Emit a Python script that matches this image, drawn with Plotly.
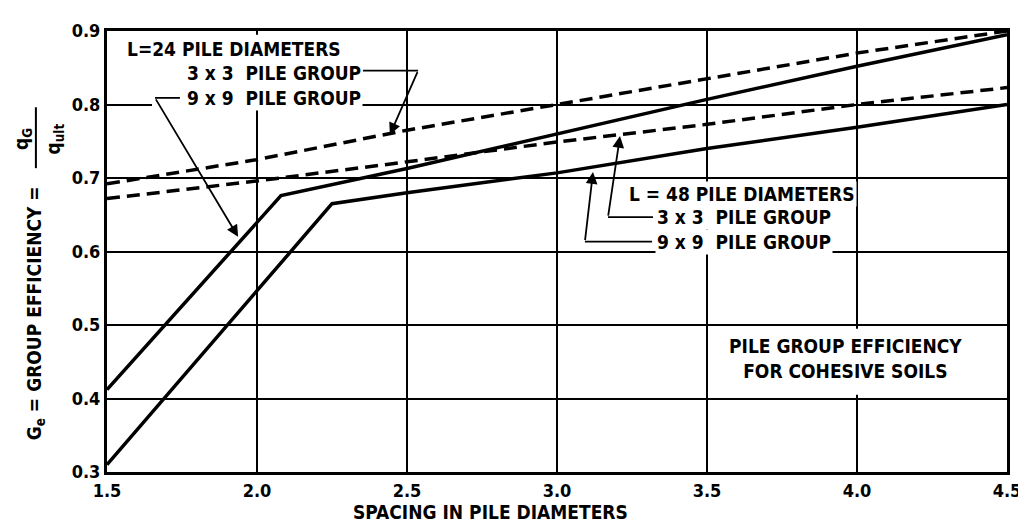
import plotly.graph_objects as go

# spacing (pile diameters) and group efficiency
x_l24_3x3 = [1.5, 1.62, 2.0, 2.5, 3.0, 3.5, 4.0, 4.5]
y_l24_3x3 = [0.692, 0.700, 0.725, 0.765, 0.800, 0.836, 0.870, 0.900]

x_l24_9x9 = [1.5, 2.08, 2.5, 3.0, 3.5, 4.0, 4.5]
y_l24_9x9 = [0.412, 0.676, 0.713, 0.760, 0.807, 0.852, 0.895]

x_l48_3x3 = [1.5, 2.0, 2.5, 3.0, 3.5, 4.0, 4.5]
y_l48_3x3 = [0.672, 0.696, 0.722, 0.749, 0.773, 0.800, 0.823]

x_l48_9x9 = [1.5, 2.25, 2.5, 3.0, 3.5, 4.0, 4.5]
y_l48_9x9 = [0.310, 0.665, 0.680, 0.707, 0.740, 0.769, 0.800]

FONT = "Liberation Sans Narrow, DejaVu Sans Condensed, Arial Narrow, sans-serif"
LW = 3.5
DASH = "13px,7px"

fig = go.Figure()
fig.add_trace(go.Scatter(x=x_l24_3x3, y=y_l24_3x3, mode='lines', name='L=24, 3 x 3',
                         line=dict(color='black', width=LW, dash=DASH)))
fig.add_trace(go.Scatter(x=x_l24_9x9, y=y_l24_9x9, mode='lines', name='L=24, 9 x 9',
                         line=dict(color='black', width=LW)))
fig.add_trace(go.Scatter(x=x_l48_3x3, y=y_l48_3x3, mode='lines', name='L=48, 3 x 3',
                         line=dict(color='black', width=LW, dash=DASH)))
fig.add_trace(go.Scatter(x=x_l48_9x9, y=y_l48_9x9, mode='lines', name='L=48, 9 x 9',
                         line=dict(color='black', width=LW)))

lab_font = dict(family=FONT, size=19, color='black', weight='bold')


def label(text, x, y, anchor='left'):
    fig.add_annotation(text=text, x=x, y=y, xref='x', yref='y', showarrow=False,
                       xanchor=anchor, yanchor='middle', font=lab_font,
                       bgcolor='white', borderpad=1)


def leader(x0, x1, y, tipx, tipy):
    # horizontal run out of the label, then an arrow onto the curve
    fig.add_shape(type='line', x0=x0, x1=x1, y0=y, y1=y, xref='x', yref='y',
                  line=dict(color='black', width=1.8))
    fig.add_annotation(text='', x=tipx, y=tipy, ax=x1, ay=y, xref='x', yref='y',
                       axref='x', ayref='y', showarrow=True, arrowhead=2,
                       arrowsize=1.3, arrowwidth=1.8, arrowcolor='black', standoff=0)


def side_text(text, x, y):
    fig.add_annotation(text=text, x=x, y=y, xref='paper', yref='paper', showarrow=False,
                       textangle=-90, xanchor='center', yanchor='middle', font=lab_font)


# blank panel behind the note at lower right
fig.add_shape(type='rect', x0=3.53, x1=4.47, y0=0.405, y1=0.495, xref='x', yref='y',
              fillcolor='white', line=dict(width=0), layer='between')
# blank area behind the L=24 labels
fig.add_shape(type='rect', x0=1.65, x1=2.34, y0=0.795, y1=0.895, xref='x', yref='y',
              fillcolor='white', line=dict(width=0), layer='between')

label('L=24 PILE DIAMETERS', 1.56, 0.876)
label('3 x 3  PILE GROUP', 1.76, 0.843)
label('9 x 9  PILE GROUP', 1.76, 0.809)
leader(2.353, 2.537, 0.846, 2.443, 0.759)
leader(1.743, 1.66, 0.809, 1.937, 0.62)

label('L = 48 PILE DIAMETERS', 3.233, 0.6787)
label('3 x 3  PILE GROUP', 3.327, 0.6467)
label('9 x 9  PILE GROUP', 3.327, 0.6133)
leader(3.32, 3.17, 0.6467, 3.21, 0.757)
leader(3.317, 3.093, 0.6133, 3.12, 0.708)

fig.add_annotation(text='PILE GROUP EFFICIENCY<br>FOR COHESIVE SOILS', x=3.96, y=0.455,
                   xref='x', yref='y', showarrow=False, font=lab_font, align='center')

# axis titles
fig.add_annotation(text='SPACING IN PILE DIAMETERS', x=2.777, y=-0.09, xref='x', yref='paper',
                   showarrow=False, font=lab_font, yanchor='middle')
side_text('G<sub>e</sub> = GROUP EFFICIENCY =', -0.08, 0.36)
side_text('q<sub>G</sub>', -0.094, 0.756)
side_text('q<sub>ult</sub>', -0.058, 0.756)
fig.add_shape(type='line', x0=-0.079, x1=-0.079, y0=0.689, y1=0.827, xref='paper', yref='paper',
              line=dict(color='black', width=2))

axis_common = dict(showline=True, mirror=True, linecolor='black', linewidth=3,
                   showgrid=True, gridcolor='black', gridwidth=2, zeroline=False,
                   ticks='', tickformat='.1f',
                   tickfont=dict(family=FONT, size=18, color='black', weight='bold'))

fig.update_xaxes(range=[1.5, 4.5], dtick=0.5, **axis_common)
fig.update_yaxes(range=[0.3, 0.9], dtick=0.1, **axis_common)

# the page body adds 8px on the left and top, so the margins make up for it
fig.update_layout(
    width=1026, height=523,
    margin=dict(l=99, r=27, t=14, b=59),
    paper_bgcolor='white',
    plot_bgcolor='white',
    showlegend=False,
    font=dict(family=FONT, color='black'),
)

fig.write_html("out.html")
